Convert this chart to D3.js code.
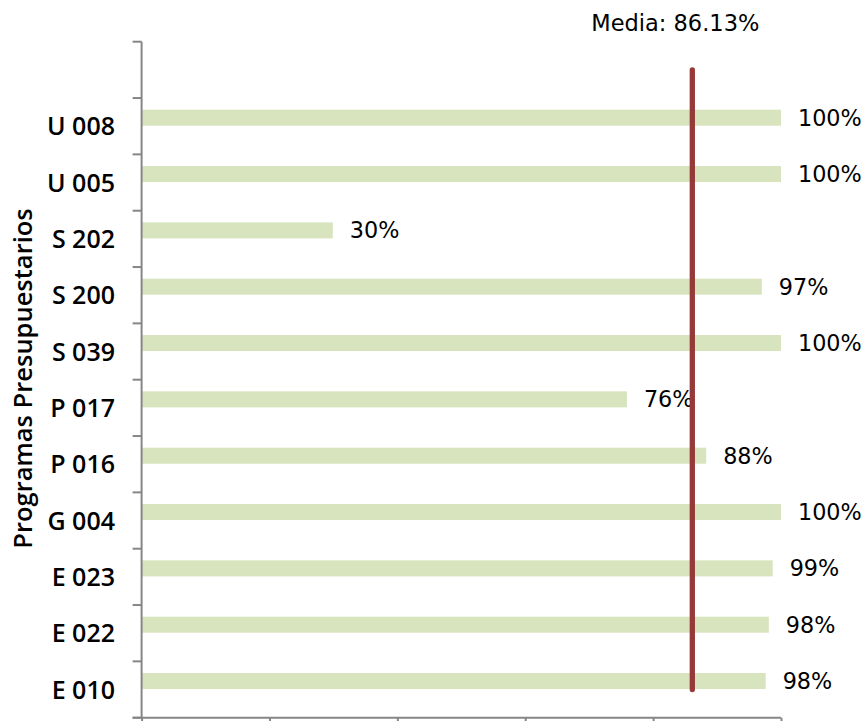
<!DOCTYPE html>
<html>
<head>
<meta charset="utf-8">
<script src="https://cdn.jsdelivr.net/npm/d3@7"></script>
<style>
  html, body { margin: 0; padding: 0; background: #fff; }
  svg { display: block; }
</style>
</head>
<body>
<svg id="chart" width="868" height="721"></svg>
<script>
// ---- data (top to bottom) ----
const categories = ["U 008", "U 005", "S 202", "S 200", "S 039", "P 017", "P 016", "G 004", "E 023", "E 022", "E 010"];
const values = [1.00, 1.00, 0.299, 0.970, 1.00, 0.759, 0.883, 1.00, 0.987, 0.981, 0.976];
const mediaValue = 0.8613;
const mediaLabel = "Media: 86.13%";
const xTicks = [0, 0.2, 0.4, 0.6, 0.8, 1.0];
const axisTitle = "Programas Presupuestarios";

(function () {
const svg = d3.select("#chart");
const pLeft = 141.6, pRight = 781, pTop = 41.7, pBottom = 717.7;
const axisColor = "#868686";

const x = d3.scaleLinear().domain([0, 1]).range([pLeft, pRight]);
const domainY = [""].concat(categories);
const y = d3.scaleBand().domain(domainY).range([pTop, pBottom]).padding(0);
const bw = y.bandwidth();
const center = c => y(c) + bw / 2;

// bars
const barH = 16;
svg.append("g").selectAll("rect").data(categories).join("rect")
  .attr("x", pLeft)
  .attr("y", (c) => center(c) - 16.5)
  .attr("width", (c, i) => x(values[i]) - pLeft)
  .attr("height", barH)
  .attr("fill", "#D7E4BD");

// value labels
const fmt = d3.format(".0%");
svg.append("g").selectAll("text").data(categories).join("text")
  .attr("x", (c, i) => x(values[i]) + 17)
  .attr("y", (c) => center(c) - 8.5)
  .attr("dy", "0.36em")
  .attr("font-family", "DejaVu Sans")
  .attr("font-size", 22.3)
  .attr("fill", "#000")
  .text((c, i) => fmt(values[i]));

// media line
svg.append("line")
  .attr("x1", x(mediaValue)).attr("x2", x(mediaValue))
  .attr("y1", center("")).attr("y2", center(categories[categories.length - 1]))
  .attr("stroke", "#963A39")
  .attr("stroke-width", 5.3)
  .attr("stroke-linecap", "round");

svg.append("text")
  .attr("x", x(mediaValue) - 17)
  .attr("y", 31)
  .attr("text-anchor", "middle")
  .attr("font-family", "DejaVu Sans")
  .attr("font-size", 22.5)
  .attr("fill", "#000")
  .text(mediaLabel);

// y axis line and ticks
const gy = svg.append("g");
gy.append("line")
  .attr("x1", pLeft).attr("x2", pLeft)
  .attr("y1", pTop).attr("y2", pBottom)
  .attr("stroke", axisColor).attr("stroke-width", 2);
const yTickPos = domainY.map(c => y(c)).concat([pBottom]);
gy.selectAll("line.tick").data(yTickPos).join("line")
  .attr("class", "tick")
  .attr("x1", pLeft - 9).attr("x2", pLeft)
  .attr("y1", d => d).attr("y2", d => d)
  .attr("stroke", axisColor).attr("stroke-width", 2);

// category labels
gy.selectAll("text").data(categories).join("text")
  .attr("x", 115)
  .attr("y", c => center(c))
  .attr("dy", "0.36em")
  .attr("text-anchor", "end")
  .attr("font-family", "Open Sans")
  .attr("font-weight", 600)
  .attr("font-size", 25)
  .attr("fill", "#000")
  .text(c => c);

// x axis
const xAxis = d3.axisBottom(x).tickValues(xTicks).tickSize(7).tickFormat("");
const gx = svg.append("g").attr("transform", `translate(0,${pBottom})`).call(xAxis);
gx.select(".domain").attr("stroke", axisColor).attr("stroke-width", 2)
  .attr("d", `M${pLeft - 9},0H${pRight}`);
gx.selectAll(".tick line").attr("stroke", axisColor).attr("stroke-width", 2);

// axis title
svg.append("text")
  .attr("transform", `translate(31.5,${(205 + 552) / 2}) rotate(-90)`)
  .attr("text-anchor", "middle")
  .attr("font-family", "Open Sans")
  .attr("font-weight", 600)
  .attr("font-size", 25.5)
  .attr("fill", "#000")
  .text(axisTitle);
})();
</script>
</body>
</html>
